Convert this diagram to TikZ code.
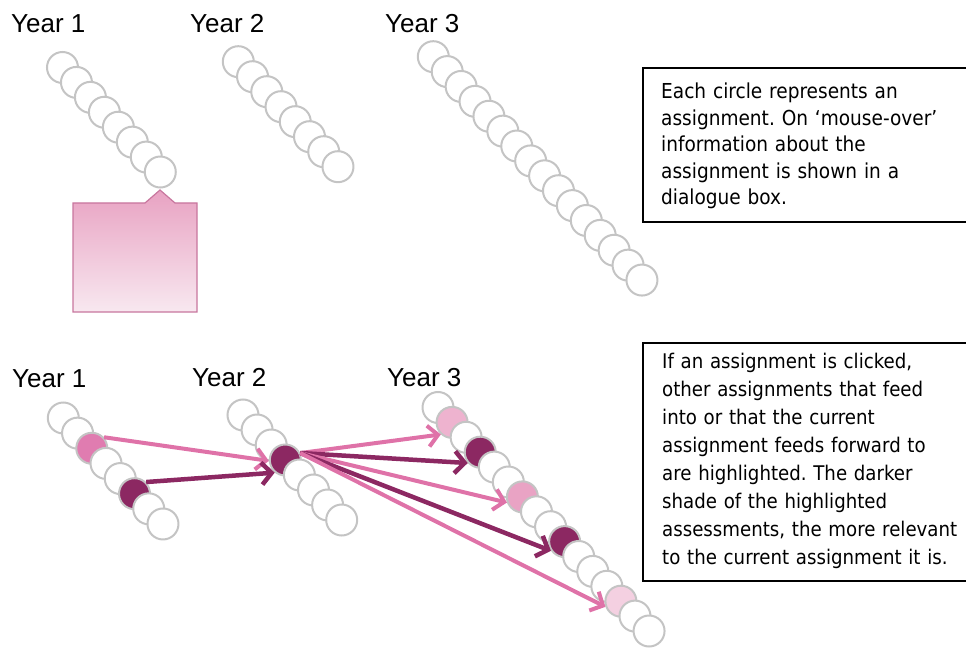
\documentclass[tikz,border=0pt]{standalone}
\usepackage{fontspec}
\setmainfont{Liberation Sans}
\newfontfamily\boxfont{DejaVu Sans Condensed}
\usetikzlibrary{arrows.meta}
\definecolor{ringgray}{RGB}{196,196,196}
\definecolor{darkmag}{RGB}{140,40,98}
\definecolor{pinkarrow}{RGB}{223,114,168}
\definecolor{pinkA}{RGB}{224,124,176}
\definecolor{pinkL}{RGB}{238,179,207}
\definecolor{pinkM}{RGB}{233,163,196}
\definecolor{pinkVL}{RGB}{244,208,225}
\definecolor{calltop}{RGB}{232,162,194}
\definecolor{callbot}{RGB}{248,232,240}
\definecolor{callborder}{RGB}{200,118,158}
\tikzset{
  circ/.style={circle, draw=ringgray, line width=2pt, minimum size=31pt, inner sep=0pt, fill=white},
  yearlbl/.style={font=\fontsize{26}{30}\selectfont, inner sep=0pt, anchor=base west},
  boxtext/.style={font=\boxfont\fontsize{20.6}{26.5}\selectfont, inner sep=0pt, anchor=base west, align=left, text width=320pt, execute at begin node=\frenchspacing},
  boxtextB/.style={boxtext, font=\boxfont\fontsize{20.2}{28}\selectfont},
  arrP/.style={draw=pinkarrow, line width=4pt, -{Straight Barb[length=10pt,width=21pt]}},
  arrD/.style={draw=darkmag, line width=4.5pt, -{Straight Barb[length=10pt,width=22pt]}}
}
\begin{document}
\begin{tikzpicture}[x=1pt,y=-1pt]
\useasboundingbox (0,0) rectangle (966,652);

% ---------- top panel ----------
\node[yearlbl] (ty1) at (11,33) {Year 1};
\node[yearlbl] (ty2) at (190,33) {Year 2};
\node[yearlbl] (ty3) at (385,33) {Year 3};

\foreach \i in {0,...,7}
  \node[circ] (ta\i) at ({62.5+13.97*\i},{67.5+14.93*\i}) {};
\foreach \i in {0,...,7}
  \node[circ] (tb\i) at ({238.3+14.24*\i},{61.7+15*\i}) {};
\foreach \i in {0,...,15}
  \node[circ] (tc\i) at ({433.3+13.91*\i},{56.7+14.89*\i}) {};

% callout dialogue box
\draw[callborder, line width=1.2pt, top color=calltop, bottom color=callbot]
  (73,203) -- (145,203) -- (160,190) -- (175,203) -- (197,203)
  -- (197,312) -- (73,312) -- cycle;

% text box frames (running off the right edge)
\begin{scope}
\clip (0,0) rectangle (966,652);
\draw[line width=2pt] (643,68) rectangle (995,222);
\draw[line width=2pt] (643,343) rectangle (995,581);
\end{scope}
\node[boxtext] (txt1) at (661,99) {Each circle represents an\\
assignment. On ‘mouse-over’\\
information about the\\
assignment is shown in a\\
dialogue box.};

% ---------- bottom panel ----------
\node[yearlbl] (by1) at (12,387) {Year 1};
\node[yearlbl] (by2) at (192,386) {Year 2};
\node[yearlbl] (by3) at (387,386) {Year 3};

\foreach \i/\c in {0/white,1/white,2/pinkA,3/white,4/white,5/darkmag,6/white,7/white}
  \node[circ, fill=\c] (ba\i) at ({63.3+14.24*\i},{418+15.14*\i}) {};
\foreach \i/\c in {0/white,1/white,2/white,3/darkmag,4/white,5/white,6/white,7/white}
  \node[circ, fill=\c] (bb\i) at ({243+14.1*\i},{415+15*\i}) {};
\foreach \i/\c in {0/white,1/pinkL,2/white,3/darkmag,4/white,5/white,6/pinkM,7/white,
                   8/white,9/darkmag,10/white,11/white,12/white,13/pinkVL,14/white,15/white}
  \node[circ, fill=\c] (bc\i) at ({438+14.07*\i},{407.5+14.9*\i}) {};

\draw[arrP] (ba2.42) -- (bb3.183);
\draw[arrD] (ba5.45) -- (bb3.230);
\draw[arrP] (bb3.25) -- (bc1.227);
\draw[arrD] (bb3.25) -- (bc3.221);
\draw[arrP] (bb3.25) -- (bc6.200);
\draw[arrD] (bb3.25) -- (bc9.214);
\draw[arrP] (bb3.25) -- (bc13.200);

\node[boxtextB] (txt2) at (662,368) {If an assignment is clicked,\\
other assignments that feed\\
into or that the current\\
assignment feeds forward to\\
are highlighted. The darker\\
shade of the highlighted\\
assessments, the more relevant\\
to the current assignment it is.};
\end{tikzpicture}
\end{document}
